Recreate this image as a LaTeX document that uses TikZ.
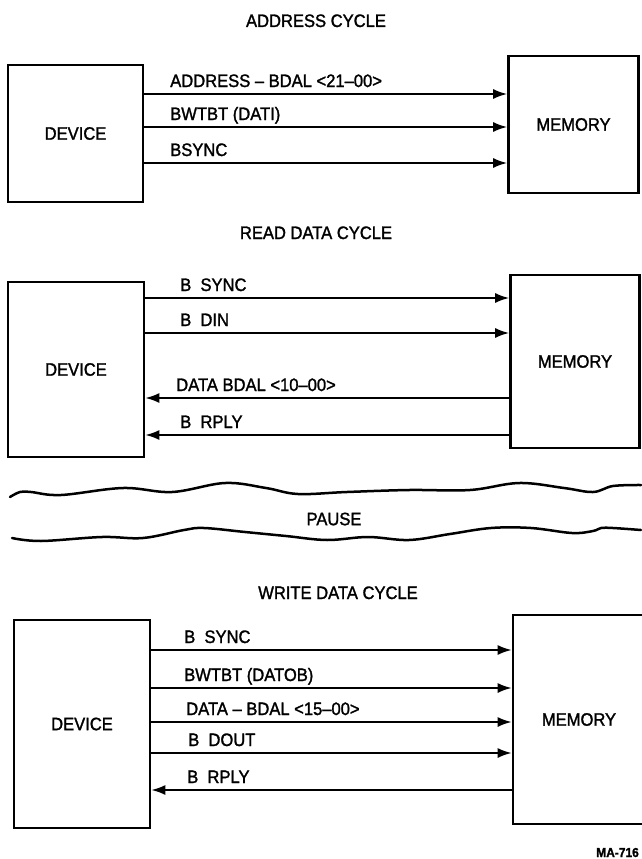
\documentclass[tikz,border=0pt]{standalone}
\usepackage{fontspec}
\setmainfont{Liberation Sans}[FakeStretch=0.92, FakeBold=1.5]
\usetikzlibrary{arrows.meta}

\begin{document}
\begin{tikzpicture}[x=1pt, y=-1pt, font=\fontsize{18}{21}\selectfont]
\tikzstyle{unit} = [rectangle, draw=black, line width=2.6pt, text centered]
\tikzstyle{arrow} = [line width=1.9pt, -{Latex[length=14pt, width=10pt]}]
\tikzstyle{sig} = [anchor=base west, inner sep=0pt, yshift=7pt]
\tikzstyle{title} = [anchor=base, inner sep=0pt]
\tikzstyle{wave} = [line width=2.5pt, line cap=round, line join=round]

\useasboundingbox (0,0) rectangle (641,859);

% Address cycle
\node (t1) [title] at (316,27) {ADDRESS CYCLE};
\node (dev1) [unit, minimum width=135pt, minimum height=137pt] at (75.5,133.5) {DEVICE};
\node (mem1) [unit, minimum width=130pt, minimum height=137pt] at (573.5,124.5) {MEMORY};
\draw [arrow] (dev1.east |- 0,94) -- node[sig, pos=0, xshift=25pt] {ADDRESS -- BDAL <21--00>} (mem1.west |- 0,94);
\draw [arrow] (dev1.east |- 0,127) -- node[sig, pos=0, xshift=25pt] {BWTBT (DATI)} (mem1.west |- 0,127);
\draw [arrow] (dev1.east |- 0,163) -- node[sig, pos=0, xshift=25pt] {BSYNC} (mem1.west |- 0,163);

% Read data cycle
\node (t2) [title] at (316,239) {READ DATA CYCLE};
\node (dev2) [unit, minimum width=136pt, minimum height=175pt] at (76,369.5) {DEVICE};
\node (mem2) [unit, minimum width=129pt, minimum height=173pt] at (575,361.5) {MEMORY};
\draw [arrow] (dev2.east |- 0,298) -- node[sig, pos=0, xshift=34pt] {B\ \ SYNC} (mem2.west |- 0,298);
\draw [arrow] (dev2.east |- 0,333) -- node[sig, pos=0, xshift=34pt] {B\ \ DIN} (mem2.west |- 0,333);
\draw [arrow] (mem2.west |- 0,398) -- node[sig, pos=1, xshift=30pt] {DATA BDAL <10--00>} (dev2.east |- 0,398);
\draw [arrow] (mem2.west |- 0,435) -- node[sig, pos=1, xshift=34pt] {B\ \ RPLY} (dev2.east |- 0,435);

% Pause
\draw [wave] plot [smooth, tension=0.6] coordinates {(10,497) (20,492) (31,492) (61,495) (123,488) (172,492) (225,483) (266,488) (298,494) (347,492) (409,490) (470,490) (519,483) (564,488) (593,492) (613,486) (641,485)};
\draw [wave] plot [smooth, tension=0.6] coordinates {(12,538) (41,541) (102,537) (143,538) (184,530) (204,528) (245,532) (286,536) (327,540) (368,537) (409,540) (450,534) (491,528) (531,528) (572,533) (593,531) (601,528) (613,528) (641,530)};
\node (pause) at (334,519) {PAUSE};

% Write data cycle
\node (t3) [title] at (338,599) {WRITE DATA CYCLE};
\node (dev3) [unit, minimum width=136pt, minimum height=208pt] at (82,724) {DEVICE};
\node (mem3) [unit, minimum width=132pt, minimum height=209pt] at (579,719.5) {MEMORY};
\draw [arrow] (dev3.east |- 0,650) -- node[sig, pos=0, xshift=32pt] {B\ \ SYNC} (mem3.west |- 0,650);
\draw [arrow] (dev3.east |- 0,688) -- node[sig, pos=0, xshift=32pt] {BWTBT (DATOB)} (mem3.west |- 0,688);
\draw [arrow] (dev3.east |- 0,722) -- node[sig, pos=0, xshift=34pt] {DATA -- BDAL <15--00>} (mem3.west |- 0,722);
\draw [arrow] (dev3.east |- 0,753) -- node[sig, pos=0, xshift=36pt] {B\ \ DOUT} (mem3.west |- 0,753);
\draw [arrow] (mem3.west |- 0,790) -- node[sig, pos=1, xshift=35pt] {B\ \ RPLY} (dev3.east |- 0,790);

\node (tag) [anchor=base east, inner sep=0pt, font=\fontsize{13}{15}\selectfont\bfseries] at (639,857) {MA-716};
\end{tikzpicture}
\end{document}
